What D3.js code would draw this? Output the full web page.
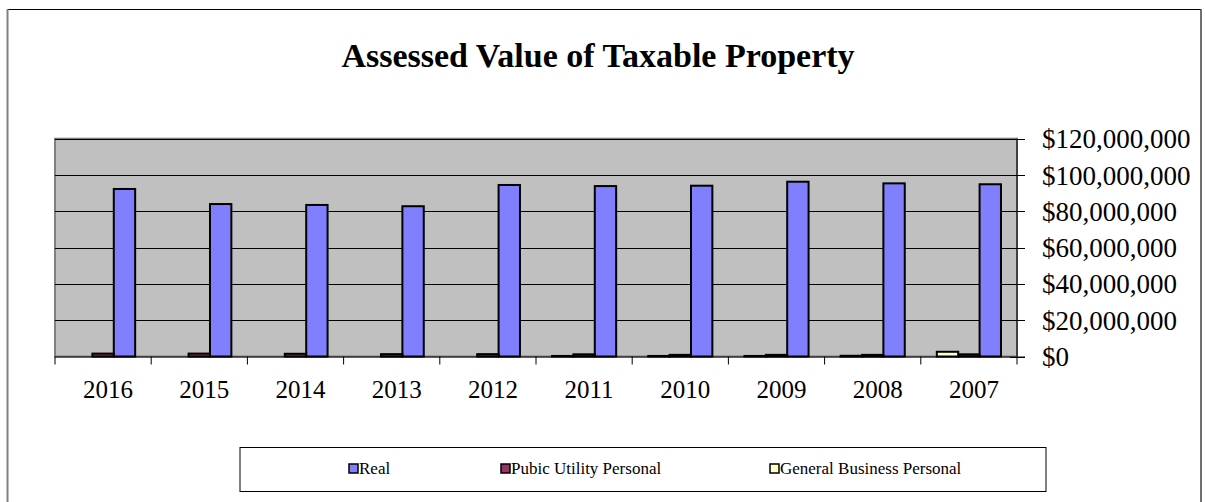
<!DOCTYPE html>
<html>
<head>
<meta charset="utf-8">
<script src="https://d3js.org/d3.v7.min.js"></script>
<style>
  body { margin: 0; background: #fff; }
  text { font-family: "Liberation Serif", "Times New Roman", serif; }
</style>
</head>
<body>
<div id="chart"></div>
<script>
// years as shown left to right (reversed axis)
var years = ["2016", "2015", "2014", "2013", "2012", "2011", "2010", "2009", "2008", "2007"];
var seriesNames = ["Real", "Pubic Utility Personal", "General Business Personal"];
var realValues = [92300000, 84000000, 83500000, 82800000, 94500000, 93900000, 94100000, 96300000, 95400000, 94900000];
var utilityValues = [1600000, 1600000, 1500000, 1300000, 1300000, 1200000, 900000, 900000, 900000, 1200000];
var businessValues = [0, 0, 0, 0, 0, 300000, 300000, 300000, 400000, 2600000];
var yTicks = [0, 20000000, 40000000, 60000000, 80000000, 100000000, 120000000];
var colors = ["#8080ff", "#993366", "#ffffcc"];

var W = 1205, H = 502;
var svg = d3.select("#chart").append("svg").attr("width", W).attr("height", H);

// outer chart frame
svg.append("line").attr("x1", 7).attr("y1", 9.5).attr("x2", 1201).attr("y2", 9.5)
  .attr("stroke", "#000").attr("stroke-width", 1);
svg.append("line").attr("x1", 7.5).attr("y1", 9).attr("x2", 7.5).attr("y2", H)
  .attr("stroke", "#808080").attr("stroke-width", 2);
svg.append("line").attr("x1", 1201).attr("y1", 9).attr("x2", 1201).attr("y2", H)
  .attr("stroke", "#404040").attr("stroke-width", 1.5);

svg.append("text")
  .attr("x", 598).attr("y", 67)
  .attr("text-anchor", "middle")
  .style("font-size", "34px").style("font-weight", "bold")
  .text("Assessed Value of Taxable Property");

var plotLeft = 55, plotRight = 1017, plotTop = 138.7, plotBottom = 356.5;

var x = d3.scaleBand().domain(years).range([plotLeft, plotRight]);
var bw = x.bandwidth();
var gap = bw * 1.5 / 4.5;
// reversed axis puts the last series on the left
var xs = d3.scaleBand().domain(seriesNames.slice().reverse()).range([gap / 2, bw - gap / 2]);
var y = d3.scaleLinear().domain([0, 120000000]).range([plotBottom, plotTop]);

// plot area
svg.append("rect")
  .attr("x", plotLeft).attr("y", plotTop).attr("width", plotRight - plotLeft).attr("height", plotBottom - plotTop)
  .attr("fill", "#c0c0c0").attr("stroke", "#808080").attr("stroke-width", 2);

// gridlines
svg.append("g").selectAll("line").data(yTicks.slice(1)).join("line")
  .attr("x1", plotLeft).attr("x2", plotRight)
  .attr("y1", function(d) { return Math.round(y(d)) + 0.5; })
  .attr("y2", function(d) { return Math.round(y(d)) + 0.5; })
  .attr("stroke", "#000").attr("stroke-width", 1);

// bars
var table = [];
years.forEach(function(yr, i) {
  table.push({ year: yr, s: 0, v: realValues[i] });
  table.push({ year: yr, s: 1, v: utilityValues[i] });
  table.push({ year: yr, s: 2, v: businessValues[i] });
});

svg.append("g").selectAll("rect").data(table.filter(function(d) { return d.v > 0; })).join("rect")
  .attr("x", function(d) { return x(d.year) + xs(seriesNames[d.s]); })
  .attr("width", xs.bandwidth())
  .attr("y", function(d) { return y(d.v); })
  .attr("height", function(d) { return plotBottom - y(d.v); })
  .attr("fill", function(d) { return colors[d.s]; })
  .attr("stroke", "#000").attr("stroke-width", 2);

// right value axis
var yAxis = svg.append("g").attr("transform", "translate(" + plotRight + ",0)");
yAxis.append("line").attr("x1", 0).attr("x2", 0).attr("y1", plotTop).attr("y2", plotBottom)
  .attr("stroke", "#000").attr("stroke-width", 1);
yAxis.selectAll("line.tick").data(yTicks).join("line").attr("class", "tick")
  .attr("x1", -7).attr("x2", 8)
  .attr("y1", function(d) { return Math.round(y(d)) + 0.5; })
  .attr("y2", function(d) { return Math.round(y(d)) + 0.5; })
  .attr("stroke", "#000");
var fmt = d3.format("$,");
yAxis.selectAll("text").data(yTicks).join("text")
  .attr("x", 25)
  .attr("y", function(d) { return y(d) + 9.5; })
  .style("font-size", "27px")
  .text(function(d) { return fmt(d); });

// category axis
var xAxis = svg.append("g");
xAxis.append("line").attr("x1", plotLeft).attr("x2", plotRight + 8)
  .attr("y1", plotBottom + 0.5).attr("y2", plotBottom + 0.5).attr("stroke", "#000");
xAxis.selectAll("line.tick").data(years.concat(["end"])).join("line").attr("class", "tick")
  .attr("x1", function(d) { return d === "end" ? plotRight : x(d); })
  .attr("x2", function(d) { return d === "end" ? plotRight : x(d); })
  .attr("y1", plotBottom).attr("y2", plotBottom + 8)
  .attr("stroke", "#000");
xAxis.selectAll("text").data(years).join("text")
  .attr("x", function(d) { return x(d) + bw / 2 + 5; })
  .attr("y", 398)
  .attr("text-anchor", "middle")
  .style("font-size", "25px")
  .text(function(d) { return d; });

// legend
var lg = svg.append("g");
lg.append("rect").attr("x", 240).attr("y", 447.5).attr("width", 806).attr("height", 44)
  .attr("fill", "#fff").attr("stroke", "#000").attr("stroke-width", 1);
var legendX = [349, 501, 770];
seriesNames.forEach(function(name, i) {
  lg.append("rect").attr("x", legendX[i]).attr("y", 464).attr("width", 9).attr("height", 9)
    .attr("fill", colors[i]).attr("stroke", "#000").attr("stroke-width", 1.5);
  lg.append("text").attr("x", legendX[i] + 10).attr("y", 474)
    .style("font-size", "17px").text(name);
});
</script>
</body>
</html>
